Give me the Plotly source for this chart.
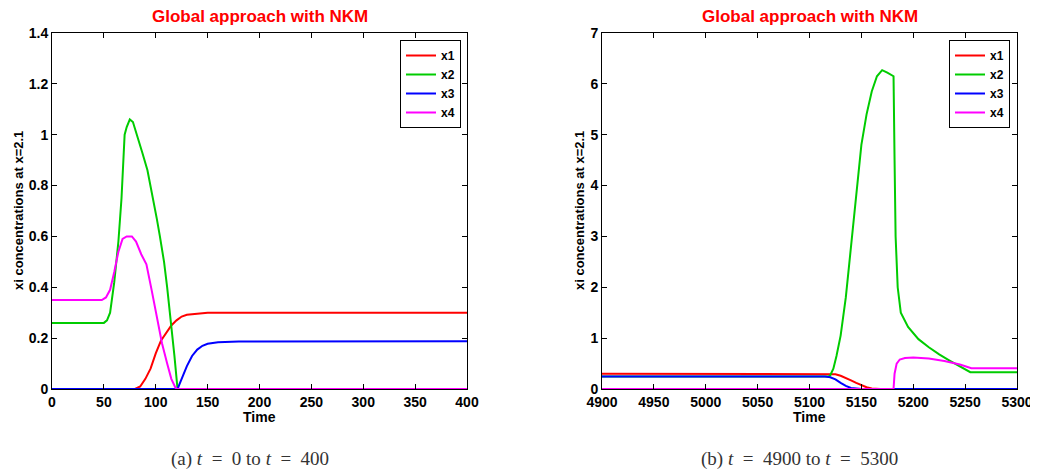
import plotly.graph_objects as go

# ---- Data ----
names = ["x1", "x2", "x3", "x4"]
colors = ["#ff0000", "#00cc00", "#0000ff", "#ff00ff"]

# Panel (a): t = 0 .. 400
a_x1_t = [0, 80, 85, 90, 95, 100, 105, 110, 115, 120, 125, 130, 140, 150, 400]
a_x1_v = [0, 0, 0.01, 0.04, 0.08, 0.14, 0.19, 0.22, 0.25, 0.27, 0.285, 0.292, 0.297, 0.3, 0.3]
a_x2_t = [0, 50, 53, 56, 60, 64, 67, 69, 70, 72, 75, 78, 82, 87, 92, 96, 101, 104, 108, 111, 115, 118, 121, 400]
a_x2_v = [0.26, 0.26, 0.27, 0.30, 0.42, 0.58, 0.75, 0.92, 1.0, 1.03, 1.06, 1.05, 1.0, 0.93, 0.86, 0.78, 0.67, 0.6, 0.5, 0.40, 0.26, 0.13, 0.0, 0.0]
a_x3_t = [0, 121, 123, 126, 130, 135, 140, 145, 150, 160, 180, 400]
a_x3_v = [0, 0, 0.02, 0.05, 0.09, 0.13, 0.155, 0.17, 0.178, 0.184, 0.187, 0.188]
a_x4_t = [0, 48, 52, 56, 60, 64, 68, 72, 77, 81, 86, 91, 96, 101, 106, 111, 115, 119, 121, 400]
a_x4_v = [0.35, 0.35, 0.36, 0.39, 0.46, 0.54, 0.59, 0.60, 0.60, 0.58, 0.53, 0.49, 0.39, 0.28, 0.18, 0.10, 0.04, 0.005, 0, 0]

# Panel (b): t = 4900 .. 5300
b_x1_t = [4900, 5120, 5125, 5130, 5135, 5140, 5145, 5150, 5155, 5160, 5168, 5300]
b_x1_v = [0.3, 0.3, 0.29, 0.26, 0.22, 0.17, 0.12, 0.07, 0.035, 0.01, 0, 0]
b_x2_t = [4900, 5118, 5120, 5123, 5126, 5130, 5135, 5140, 5145, 5150, 5155, 5160, 5165, 5170, 5175, 5181, 5182, 5183, 5185, 5188, 5195, 5205, 5215, 5225, 5235, 5245, 5255, 5300]
b_x2_v = [0.245, 0.245, 0.27, 0.4, 0.65, 1.05, 1.8, 2.8, 3.9, 4.8, 5.4, 5.85, 6.15, 6.27, 6.22, 6.15, 4.5, 3.0, 2.0, 1.5, 1.22, 0.98, 0.82, 0.68, 0.56, 0.45, 0.33, 0.33]
b_x3_t = [4900, 5115, 5120, 5125, 5130, 5135, 5140, 5145, 5150, 5300]
b_x3_v = [0.245, 0.245, 0.23, 0.19, 0.12, 0.06, 0.02, 0.005, 0, 0]
b_x4_t = [4900, 5181, 5182, 5184, 5187, 5192, 5200, 5215, 5230, 5245, 5256, 5300]
b_x4_v = [0, 0, 0.3, 0.5, 0.58, 0.61, 0.62, 0.6, 0.55, 0.48, 0.41, 0.41]

a_xticks = [0, 50, 100, 150, 200, 250, 300, 350, 400]
a_yticks = [0, 0.2, 0.4, 0.6, 0.8, 1, 1.2, 1.4]
a_ylabels = ["0", "0.2", "0.4", "0.6", "0.8", "1", "1.2", "1.4"]
b_xticks = [4900, 4950, 5000, 5050, 5100, 5150, 5200, 5250, 5300]
b_yticks = [0, 1, 2, 3, 4, 5, 6, 7]

title_text = "Global approach with NKM"
ylabel = "xi concentrations at x=2.1"
xlabel = "Time"
SP = "&nbsp;&nbsp;"
cap_a = "(a) <i>t</i>" + SP + "=" + SP + "0 to <i>t</i>" + SP + "=" + SP + "400"
cap_b = "(b) <i>t</i>" + SP + "=" + SP + "4900 to <i>t</i>" + SP + "=" + SP + "5300"

# page has an 8px body margin; build the figure in page coordinates minus that
OX, OY = 8, 8
W, H = 1038 - OX, 474 - OY


def px(x):
    return (x - OX) / W


def py(y):
    return 1 - (y - OY) / H


fig = go.Figure()

panel_a = [(a_x1_t, a_x1_v), (a_x2_t, a_x2_v), (a_x3_t, a_x3_v), (a_x4_t, a_x4_v)]
panel_b = [(b_x1_t, b_x1_v), (b_x2_t, b_x2_v), (b_x3_t, b_x3_v), (b_x4_t, b_x4_v)]

for i, (t, v) in enumerate(panel_a):
    fig.add_trace(go.Scatter(x=t, y=v, mode="lines", name=names[i],
                             line=dict(color=colors[i], width=2),
                             xaxis="x", yaxis="y", legend="legend"))
for i, (t, v) in enumerate(panel_b):
    fig.add_trace(go.Scatter(x=t, y=v, mode="lines", name=names[i],
                             line=dict(color=colors[i], width=2),
                             xaxis="x2", yaxis="y2", legend="legend2"))

tickfont = dict(family="Liberation Sans", size=14, color="black", weight="bold")
ax_common = dict(showgrid=False, zeroline=False, showline=True, linecolor="black",
                 linewidth=1, mirror="allticks", ticks="inside", ticklen=5,
                 tickcolor="black", tickfont=tickfont, automargin=False)

ytop = py(33)
ybot = py(389)
legfont = dict(family="Liberation Sans", size=12, color="black", weight="bold")
fig.update_layout(
    width=W, height=H,
    margin=dict(l=0, r=0, t=0, b=0),
    paper_bgcolor="white", plot_bgcolor="white",
    xaxis=dict(domain=[px(52), px(467)], range=[0, 400], tickvals=a_xticks,
               anchor="y", **ax_common),
    yaxis=dict(domain=[ybot, ytop], range=[0, 1.4], tickvals=a_yticks,
               ticktext=a_ylabels, anchor="x", **ax_common),
    xaxis2=dict(domain=[px(602), px(1017)], range=[4900, 5300], tickvals=b_xticks,
                anchor="y2", **ax_common),
    yaxis2=dict(domain=[ybot, ytop], range=[0, 7], tickvals=b_yticks,
                anchor="x2", **ax_common),
    legend=dict(x=px(461), y=py(40), xanchor="right", yanchor="top",
                bordercolor="black", borderwidth=1, bgcolor="white", font=legfont,
                itemwidth=30, tracegroupgap=0, traceorder="normal"),
    legend2=dict(x=px(1010), y=py(40), xanchor="right", yanchor="top",
                 bordercolor="black", borderwidth=1, bgcolor="white", font=legfont,
                 itemwidth=30, tracegroupgap=0, traceorder="normal"),
    showlegend=True,
)

ann = []
for cx, ylx, cap, capx in [((52 + 467) / 2, 18, cap_a, 250), ((602 + 1017) / 2, 579, cap_b, 799)]:
    ann.append(dict(x=px(cx), y=py(16), xref="paper", yref="paper", text=title_text,
                    showarrow=False, xanchor="center", yanchor="middle",
                    font=dict(family="Liberation Sans", size=17, color="#ff0000", weight="bold")))
    ann.append(dict(x=px(cx), y=py(417), xref="paper", yref="paper", text=xlabel,
                    showarrow=False, xanchor="center", yanchor="middle",
                    font=dict(family="Liberation Sans", size=14, color="black", weight="bold")))
    ann.append(dict(x=px(ylx), y=py(211), xref="paper", yref="paper", text=ylabel,
                    showarrow=False, xanchor="center", yanchor="middle", textangle=-90,
                    font=dict(family="Liberation Sans", size=13, color="black", weight="bold")))
    ann.append(dict(x=px(capx), y=py(459), xref="paper", yref="paper", text=cap,
                    showarrow=False, xanchor="center", yanchor="middle",
                    font=dict(family="Liberation Serif", size=19, color="#333333")))
fig.update_layout(annotations=ann)

fig.write_html("out.html")
